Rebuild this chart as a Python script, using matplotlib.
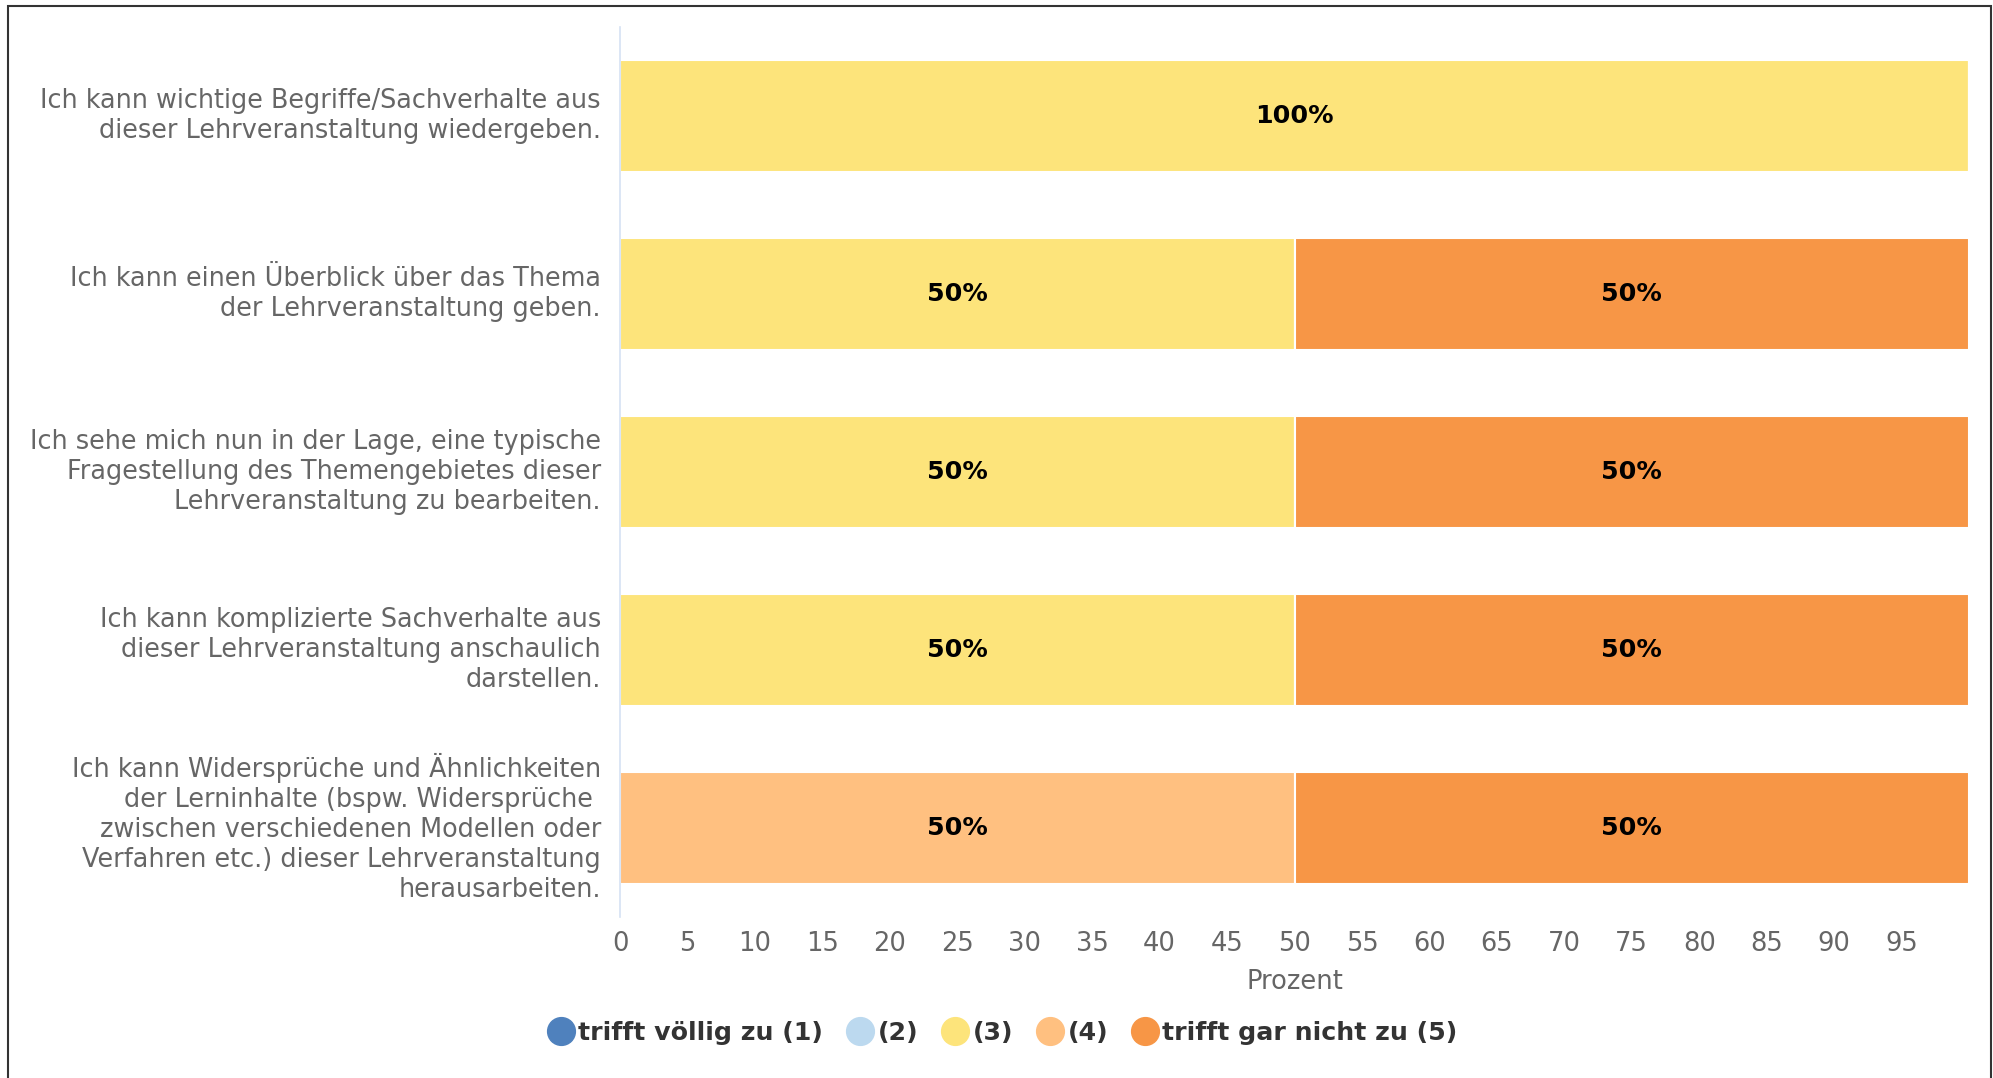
import matplotlib
matplotlib.use("Agg")
import matplotlib.pyplot as plt
from matplotlib.patches import Rectangle
from matplotlib.lines import Line2D
import matplotlib.transforms as mtransforms
import numpy as np

plt.rcParams["font.family"] = ["DejaVu Sans"]

categories = [
    "Ich kann wichtige Begriffe/Sachverhalte aus\ndieser Lehrveranstaltung wiedergeben.",
    "Ich kann einen Überblick über das Thema\nder Lehrveranstaltung geben.",
    "Ich sehe mich nun in der Lage, eine typische\nFragestellung des Themengebietes dieser\nLehrveranstaltung zu bearbeiten.",
    "Ich kann komplizierte Sachverhalte aus\ndieser Lehrveranstaltung anschaulich\ndarstellen.",
    "Ich kann Widersprüche und Ähnlichkeiten\nder Lerninhalte (bspw. Widersprüche \nzwischen verschiedenen Modellen oder\nVerfahren etc.) dieser Lehrveranstaltung\nherausarbeiten.",
]
series_names = ["trifft völlig zu (1)", "(2)", "(3)", "(4)", "trifft gar nicht zu (5)"]
s1 = [0, 0, 0, 0, 0]
s2 = [0, 0, 0, 0, 0]
s3 = [100, 50, 50, 50, 0]
s4 = [0, 0, 0, 0, 50]
s5 = [0, 50, 50, 50, 50]
series_values = [s1, s2, s3, s4, s5]
colors = ["#4F81BD", "#BCD9EF", "#FDE47B", "#FFC080", "#F79646"]
xticks = list(range(0, 100, 5))

fig = plt.figure(figsize=(19.93, 10.78), dpi=100)
ax = fig.add_axes([620/1993, 1-917/1078, (1969-620)/1993, (917-27)/1078])

y = np.arange(len(categories))
left = np.zeros(len(categories))
for name, vals, c in zip(series_names, series_values, colors):
    vals = np.array(vals, dtype=float)
    ax.barh(y, vals, left=left, height=0.63, color=c, edgecolor="white", linewidth=1.5, label=name)
    for yi, v, l in zip(y, vals, left):
        if v > 0:
            ax.text(l + v/2, yi, f"{v:.0f}%", ha="center", va="center",
                    fontsize=18.3, fontweight="bold", color="black")
    left += vals

ax.set_xlim(0, 100)
ax.set_ylim(len(categories)-0.5, -0.5)
ax.set_xticks(xticks)
ax.set_yticks(y)
ax.set_yticklabels([])
trans = mtransforms.blended_transform_factory(ax.transAxes, ax.transData)
for yi, lab in zip(y, categories):
    ax.text(-19/1349, yi, lab, transform=trans, ha="right", va="center",
            fontsize=18.4, color="#666666", linespacing=1.2)
ax.tick_params(axis="x", length=0, labelsize=18.5, labelcolor="#666666", pad=10)
ax.tick_params(axis="y", length=0)
for s in ["top", "right", "bottom"]:
    ax.spines[s].set_visible(False)
ax.spines["left"].set_color("#D6E2F3")
ax.spines["left"].set_linewidth(1.2)
ax.set_xlabel("Prozent", fontsize=18.5, color="#666666", labelpad=9)

handles = [Line2D([0], [0], marker="o", linestyle="none", markersize=20,
                  markerfacecolor=c, markeredgecolor=c) for c in colors]
leg = fig.legend(handles, series_names, loc="center", bbox_to_anchor=(0.5, 1-1033/1078),
                 ncol=5, frameon=False, handletextpad=-0.3, columnspacing=0.45,
                 handlelength=2.0, prop={"size": 18.2, "weight": "bold"})
for t in leg.get_texts():
    t.set_color("#333333")

fig.patches.append(Rectangle((8/1993, -0.05), (1991-8)/1993, 0.05 + 1-6/1078,
                             transform=fig.transFigure, fill=False,
                             edgecolor="#333333", linewidth=1.5))

fig.savefig("out.png", dpi=100)
